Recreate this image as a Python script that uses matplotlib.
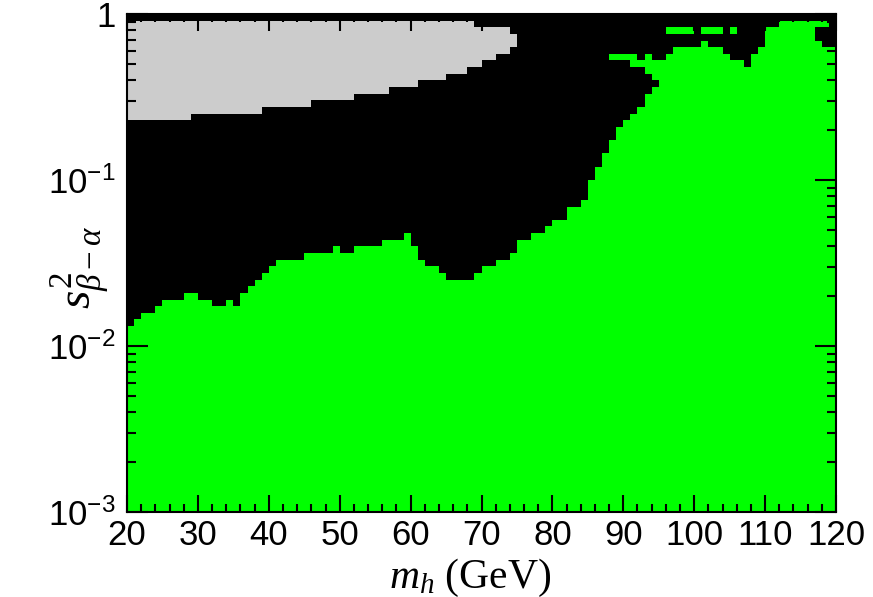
import numpy as np
import matplotlib.pyplot as plt
from matplotlib.colors import ListedColormap
from matplotlib.ticker import LogLocator, MultipleLocator, NullFormatter

plt.rcParams["font.family"] = "Liberation Sans"
plt.rcParams["mathtext.fontset"] = "custom"
plt.rcParams["mathtext.rm"] = "Liberation Serif"
plt.rcParams["mathtext.it"] = "Liberation Serif:italic"
plt.rcParams["mathtext.sf"] = "Liberation Sans"

# scan grid: 1 GeV bins in m_h, 0.04-decade bins in s^2_{beta-alpha}
mh_edges = np.arange(20, 121, 1)
logs2_edges = np.linspace(-3.0, 0.0, 76)

# upper edge (log10 s^2) of the allowed region, one value per m_h bin (20..119)
allowed_top = [
    -1.88, -1.84, -1.80, -1.80, -1.76, -1.72, -1.72, -1.72, -1.68, -1.68,
    -1.72, -1.72, -1.76, -1.76, -1.72, -1.76, -1.68, -1.64, -1.60, -1.56,
    -1.52, -1.48, -1.48, -1.48, -1.48, -1.44, -1.44, -1.44, -1.44, -1.40,
    -1.44, -1.44, -1.40, -1.40, -1.40, -1.40, -1.36, -1.36, -1.36, -1.32,
    -1.40, -1.48, -1.52, -1.52, -1.56, -1.60, -1.60, -1.60, -1.60, -1.56,
    -1.52, -1.52, -1.48, -1.48, -1.44, -1.36, -1.36, -1.32, -1.32, -1.28,
    -1.24, -1.24, -1.16, -1.16, -1.12, -1.00, -0.92, -0.84, -0.76, -0.68,
    -0.64, -0.60, -0.56, -0.48, -0.28, -0.28, -0.24, -0.20, -0.20, -0.20,
    -0.20, -0.16, -0.20, -0.20, -0.24, -0.28, -0.28, -0.32, -0.24, -0.20,
    -0.08, -0.08, -0.04, -0.04, -0.04, -0.04, -0.04, -0.16, -0.20, -0.20,
]

# unphysical region (grey): m_h bins 20..74 with lower / upper log10 s^2 edge
grey_low = (
    [-0.64] * 9 + [-0.60] * 10 + [-0.56] * 7 + [-0.52] * 6 + [-0.48] * 5
    + [-0.44] * 4 + [-0.40] * 4 + [-0.36] * 3 + [-0.32] * 2 + [-0.28] * 2
    + [-0.24] * 2 + [-0.20]
)
grey_high = [-0.04] * 49 + [-0.08] * 5 + [-0.12]

# isolated allowed cells (m_h bin, lower log10 s^2 edge)
island_mh = [88, 89, 90, 91, 91, 92, 93, 93, 93,
             96, 97, 98, 99, 101, 102, 103, 105, 117, 118]
island_logs2 = [-0.28, -0.28, -0.28, -0.28, -0.32, -0.32, -0.36, -0.32, -0.28,
                -0.12, -0.12, -0.12, -0.12, -0.12, -0.12, -0.12, -0.12, -0.08, -0.08]
# excluded cells inside the allowed region
hole_mh = [94]
hole_logs2 = [-0.44]

ny, nx = len(logs2_edges) - 1, len(mh_edges) - 1
ycent = 0.5 * (logs2_edges[:-1] + logs2_edges[1:])
z = np.zeros((ny, nx))
for i in range(nx):
    z[ycent < allowed_top[i], i] = 1
for i in range(len(grey_low)):
    z[(ycent > grey_low[i]) & (ycent < grey_high[i]), i] = 2
for m, s in zip(island_mh, island_logs2):
    z[np.argmin(abs(logs2_edges[:-1] - s)), m - 20] = 1
for m, s in zip(hole_mh, hole_logs2):
    z[np.argmin(abs(logs2_edges[:-1] - s)), m - 20] = 0

fig = plt.figure(figsize=(8.73, 5.97), dpi=100)
ax = fig.add_axes([127 / 873, 1 - 512 / 597, 709 / 873, 498 / 597])
cmap = ListedColormap(["#000000", "#00ff00", "#cccccc"])
ax.pcolormesh(mh_edges, 10 ** logs2_edges, z, cmap=cmap, vmin=0, vmax=2)

ax.set_xlim(20, 120)
ax.set_ylim(1e-3, 1)
ax.set_yscale("log")

ax.xaxis.set_major_locator(MultipleLocator(10))
ax.xaxis.set_minor_locator(MultipleLocator(2))
ax.set_yticks([1e-3, 1e-2, 1e-1, 1])
ax.set_yticklabels([r"$\mathsf{10^{-3}}$", r"$\mathsf{10^{-2}}$",
                    r"$\mathsf{10^{-1}}$", r"$\mathsf{1}$"])
ax.yaxis.set_minor_locator(LogLocator(base=10, subs=np.arange(2, 10)))
ax.yaxis.set_minor_formatter(NullFormatter())

ax.tick_params(axis="both", which="both", direction="in", top=True, right=True,
               width=1.5, colors="black", labelsize=25)
ax.tick_params(axis="x", which="major", length=12, pad=5)
ax.tick_params(axis="x", which="minor", length=6)
ax.tick_params(axis="y", which="major", length=15, pad=8)
ax.tick_params(axis="y", which="minor", length=6.5)
for sp in ax.spines.values():
    sp.set_linewidth(1.5)

fig.text(470 / 873, 1 - 557 / 597, r"$m_h$ (GeV)", family="Liberation Serif",
         fontsize=30, ha="center", va="top")
fig.text(80 / 873, 1 - 268 / 597, r"$s^2_{\beta-\alpha}$", fontsize=34,
         rotation=90, ha="center", va="center")

fig.savefig("out.png", dpi=100)
